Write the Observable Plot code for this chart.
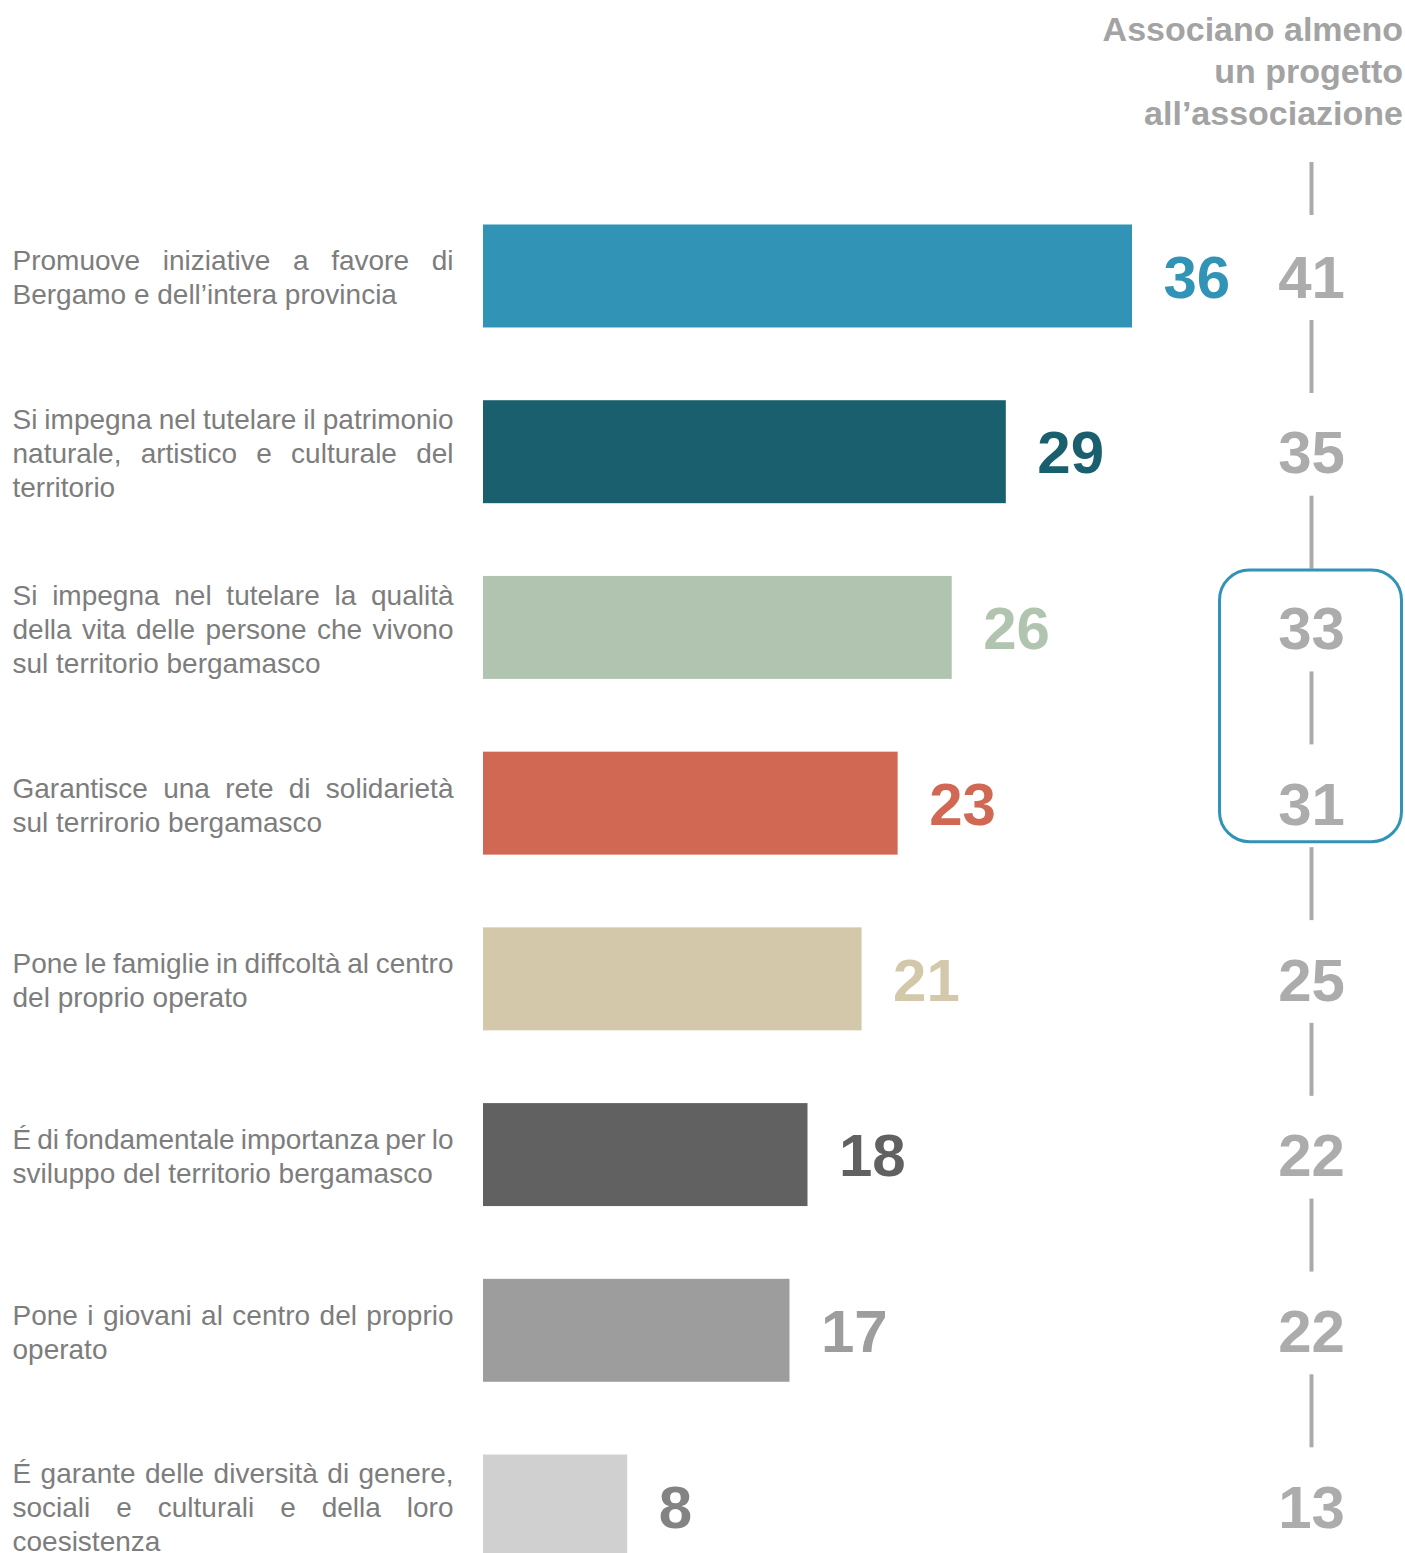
<!DOCTYPE html>
<html><head><meta charset="utf-8">
<script src="https://cdn.jsdelivr.net/npm/d3@7"></script>
<script src="https://cdn.jsdelivr.net/npm/@observablehq/plot@0.6"></script>
<style>
html,body{margin:0;padding:0;background:#fff;overflow:hidden}
#wrap{position:relative;width:1405px;height:1553px;font-family:"Liberation Sans",Arial,sans-serif}
#header{position:absolute;top:8px;right:2px;text-align:right;font-size:34px;line-height:42px;font-weight:bold;color:#a3a3a3}
#left{position:absolute;left:0;top:0}
#right{position:absolute;left:1216px;top:0;width:189px}
</style></head><body>
<div id="wrap"><div id="left"></div><div id="right"></div><div id="header">Associano almeno<br>un progetto<br>all’associazione</div></div>
<script>
const categories = [
  "Promuove iniziative a favore di\nBergamo e dell’intera provincia",
  "Si impegna nel tutelare il patrimonio\nnaturale, artistico e culturale del\nterritorio",
  "Si impegna nel tutelare la qualità\ndella vita delle persone che vivono\nsul territorio bergamasco",
  "Garantisce una rete di solidarietà\nsul terrirorio bergamasco",
  "Pone le famiglie in diffcoltà al centro\ndel proprio operato",
  "É di fondamentale importanza per lo\nsviluppo del territorio bergamasco",
  "Pone i giovani al centro del proprio\noperato",
  "É garante delle diversità di genere,\nsociali e culturali e della loro\ncoesistenza"
];
const values = [36, 29, 26, 23, 21, 18, 17, 8];
const associano = [41, 35, 33, 31, 25, 22, 22, 13];
const columnName = "Associano almeno un progetto all’associazione";
const barColors = ["#3193b5", "#1a5f6e", "#b0c4b0", "#d16854", "#d3c8aa", "#616161", "#9d9d9d", "#d0d0d0"];
const valueColors = ["#3193b5", "#1a5f6e", "#b0c4b0", "#d16854", "#d3c8aa", "#616161", "#9d9d9d", "#838383"];
const highlighted = [categories[2], categories[3]];

const rows = categories.map((c, i) => ({category: c, column: columnName, value: values[i], assoc: associano[i], barFill: barColors[i], valueFill: valueColors[i]}));

const font = '"Liberation Sans", Arial, sans-serif';
const yScale = () => ({type: "band", domain: categories, range: [224.5, 1557.5], paddingInner: 0.414, paddingOuter: 0, round: false, axis: null});

const left = Plot.plot({
  width: 1405, height: 1553,
  marginLeft: 483, marginRight: 273, marginTop: 0, marginBottom: 0,
  style: {fontFamily: font, background: "transparent", overflow: "visible"},
  x: {domain: [0, d3.max(values)], axis: null},
  y: yScale(),
  color: {type: "identity"},
  marks: [
    Plot.barX(rows, {x: "value", y: "category", fill: "barFill"}),
    Plot.text(rows, {x: "value", y: "category", text: "value", fill: "valueFill", dx: 31, dy: 2, textAnchor: "start", fontSize: 60, fontWeight: "bold"}),
    Plot.text(rows, {y: "category", text: "category", frameAnchor: "left", dx: -471, textAnchor: "start", lineAnchor: "middle", fontSize: 28, lineHeight: 34 / 28, fill: "#7d7d7d"})
  ]
});
document.getElementById("left").append(left);

const right = Plot.plot({
  width: 189, height: 1553, margin: 0,
  style: {fontFamily: font, background: "transparent", overflow: "visible"},
  x: {type: "point", domain: [columnName], axis: null},
  y: yScale(),
  marks: [
    Plot.ruleX(rows.slice(0, 1), {x: "column", y1: "category", y2: "category", dy: -87.5, insetTop: 25, insetBottom: 25, stroke: "#aaaaaa", strokeWidth: 4}),
    Plot.ruleX(rows.slice(0, -1), {x: "column", y1: "category", y2: "category", dy: 80.5, insetTop: 15, insetBottom: 15, stroke: "#aaaaaa", strokeWidth: 4}),
    Plot.rect([{from: highlighted[0], to: highlighted[1]}], {y1: "from", y2: "to", insetTop: -6, insetBottom: 13, insetLeft: 3.5, insetRight: 3.5, rx: 30, fill: "none", stroke: "#3193b5", strokeWidth: 3}),
    Plot.text(rows, {x: "column", y: "category", text: "assoc", dy: 2, fontSize: 60, fontWeight: "bold", fill: "#acacac"})
  ]
});
document.getElementById("right").append(right);

// justify label lines (all but the last line of each label) to the label column width
const labelWidth = 441;
left.querySelectorAll("text").forEach(t => {
  const spans = t.querySelectorAll("tspan");
  if (spans.length < 2) return;
  spans.forEach((s, i) => {
    if (i === spans.length - 1) return;
    const n = (s.textContent.match(/ /g) || []).length;
    if (!n) return;
    const w = s.getComputedTextLength();
    s.setAttribute("word-spacing", ((labelWidth - w) / n).toFixed(2));
  });
});
</script>
</body></html>
